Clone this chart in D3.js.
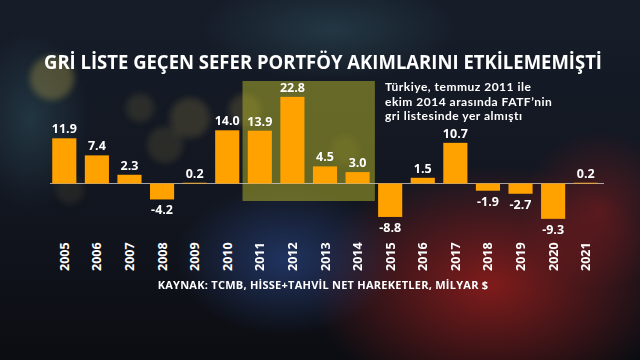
<!DOCTYPE html>
<html><head><meta charset="utf-8">
<script src="https://cdn.jsdelivr.net/npm/d3@7"></script>
<style>html,body{margin:0;padding:0;background:#111;}svg{display:block;}</style>
</head><body>
<script>
const years = ["2005","2006","2007","2008","2009","2010","2011","2012","2013","2014","2015","2016","2017","2018","2019","2020","2021"];
const values = [11.9,7.4,2.3,-4.2,0.2,14.0,13.9,22.8,4.5,3.0,-8.8,1.5,10.7,-1.9,-2.7,-9.3,0.2];
const highlightYears = ["2011","2014"];
const titleText = "GRİ LİSTE GEÇEN SEFER PORTFÖY AKIMLARINI ETKİLEMEMİŞTİ";
const noteLines = ["Türkiye, temmuz 2011 ile","ekim 2014 arasında FATF’nin","gri listesinde yer almıştı"];
const sourceText = "KAYNAK: TCMB, HİSSE+TAHVİL NET HAREKETLER, MİLYAR $";

const W=640,H=360;
const svg=d3.select("body").append("svg").attr("width",W).attr("height",H);
const defs=svg.append("defs");
const bg=defs.append("linearGradient").attr("id","bg").attr("x1",0).attr("y1",0).attr("x2",0).attr("y2",1);
bg.append("stop").attr("offset","0%").attr("stop-color","#161d29");
bg.append("stop").attr("offset","55%").attr("stop-color","#121620");
bg.append("stop").attr("offset","100%").attr("stop-color","#0c0d12");
function radial(id,color,op){
  const g=defs.append("radialGradient").attr("id",id);
  g.append("stop").attr("offset","0%").attr("stop-color",color).attr("stop-opacity",op);
  g.append("stop").attr("offset","100%").attr("stop-color",color).attr("stop-opacity",0);
}
radial("red","#b0201c",0.7);
radial("red2","#b0201c",0.4);
radial("blue","#2e4f9a",0.55);
radial("teal","#3b6a78",0.35);
defs.append("filter").attr("id","blur").append("feGaussianBlur").attr("stdDeviation",3);

svg.append("rect").attr("width",W).attr("height",H).attr("fill","url(#bg)");
const glow=svg.append("g");
glow.append("ellipse").attr("cx",490).attr("cy",285).attr("rx",180).attr("ry",120).attr("fill","url(#red)");
glow.append("ellipse").attr("cx",600).attr("cy",210).attr("rx",80).attr("ry",80).attr("fill","url(#red2)");
glow.append("ellipse").attr("cx",285).attr("cy",260).attr("rx",110).attr("ry",75).attr("fill","url(#blue)");
glow.append("ellipse").attr("cx",330).attr("cy",30).attr("rx",130).attr("ry",50).attr("fill","url(#teal)");
glow.append("ellipse").attr("cx",30).attr("cy",120).attr("rx",60).attr("ry",90).attr("fill","url(#teal)");
const bokeh=svg.append("g").attr("filter","url(#blur)");
[[52,78,22,0.35],[190,118,20,0.2],[165,145,18,0.15],[245,110,16,0.2],[140,108,14,0.15],[345,150,14,0.12],[70,190,14,0.1]].forEach(b=>{
  bokeh.append("circle").attr("cx",b[0]).attr("cy",b[1]).attr("r",b[2]).attr("fill","#b8a24a").attr("opacity",b[3]);
});

const x=d3.scaleBand().domain(years).range([48,602]).paddingInner(0.26).paddingOuter(0.13);
const y=d3.scaleLinear().domain([-10,25]).range([221.5,88.5]);

// highlight box
const hx0=x(highlightYears[0])-x.step()*0.13-1, hx1=x(highlightYears[1])+x.bandwidth()+x.step()*0.13+1;
svg.append("rect").attr("x",hx0).attr("y",81).attr("width",hx1-hx0).attr("height",120)
  .attr("fill","#b8b82a").attr("opacity",0.5);

// baseline
svg.append("line").attr("x1",50).attr("x2",604).attr("y1",y(0)).attr("y2",y(0))
  .attr("stroke","#c8c8c8").attr("stroke-width",1).attr("opacity",0.8);

const data=years.map((yr,i)=>({yr,v:values[i]}));
svg.append("g").selectAll("rect").data(data).join("rect")
  .attr("x",d=>x(d.yr)).attr("width",x.bandwidth())
  .attr("y",d=>y(Math.max(0,d.v))).attr("height",d=>Math.abs(y(d.v)-y(0)))
  .attr("fill","#ffa200");

const font="'Open Sans', sans-serif";
svg.append("g").selectAll("text").data(data).join("text")
  .attr("x",d=>x(d.yr)+x.bandwidth()/2)
  .attr("y",d=>d.v>=0? y(d.v)-5 : y(d.v)+15)
  .attr("text-anchor","middle").attr("fill","#fff").attr("font-family",font)
  .attr("font-weight",700).attr("font-size",12.5).text(d=>d.v.toFixed(1));

svg.append("g").selectAll("text").data(years).join("text")
  .attr("transform",d=>`translate(${x(d)+x.bandwidth()/2+4.5},271) rotate(-90)`)
  .attr("fill","#fff").attr("font-family",font).attr("font-weight",700).attr("font-size",12.5)
  .text(d=>d);

svg.append("text").attr("x",323).attr("y",69).attr("text-anchor","middle")
  .attr("fill","#fff").attr("font-family",font).attr("font-weight",700).attr("font-size",19)
  .attr("textLength",558).attr("lengthAdjust","spacingAndGlyphs").text(titleText);

svg.append("g").selectAll("text").data(noteLines).join("text")
  .attr("x",385).attr("y",(d,i)=>91+i*14.6)
  .attr("fill","#fff").attr("font-family","Lato, sans-serif").attr("font-weight",700).attr("font-size",12)
  .attr("letter-spacing",0.5).text(d=>d);

svg.append("text").attr("x",323).attr("y",288.5).attr("text-anchor","middle")
  .attr("fill","#fff").attr("font-family",font).attr("font-weight",700).attr("font-size",11)
  .attr("letter-spacing",0.25).text(sourceText);
</script>
</body></html>
